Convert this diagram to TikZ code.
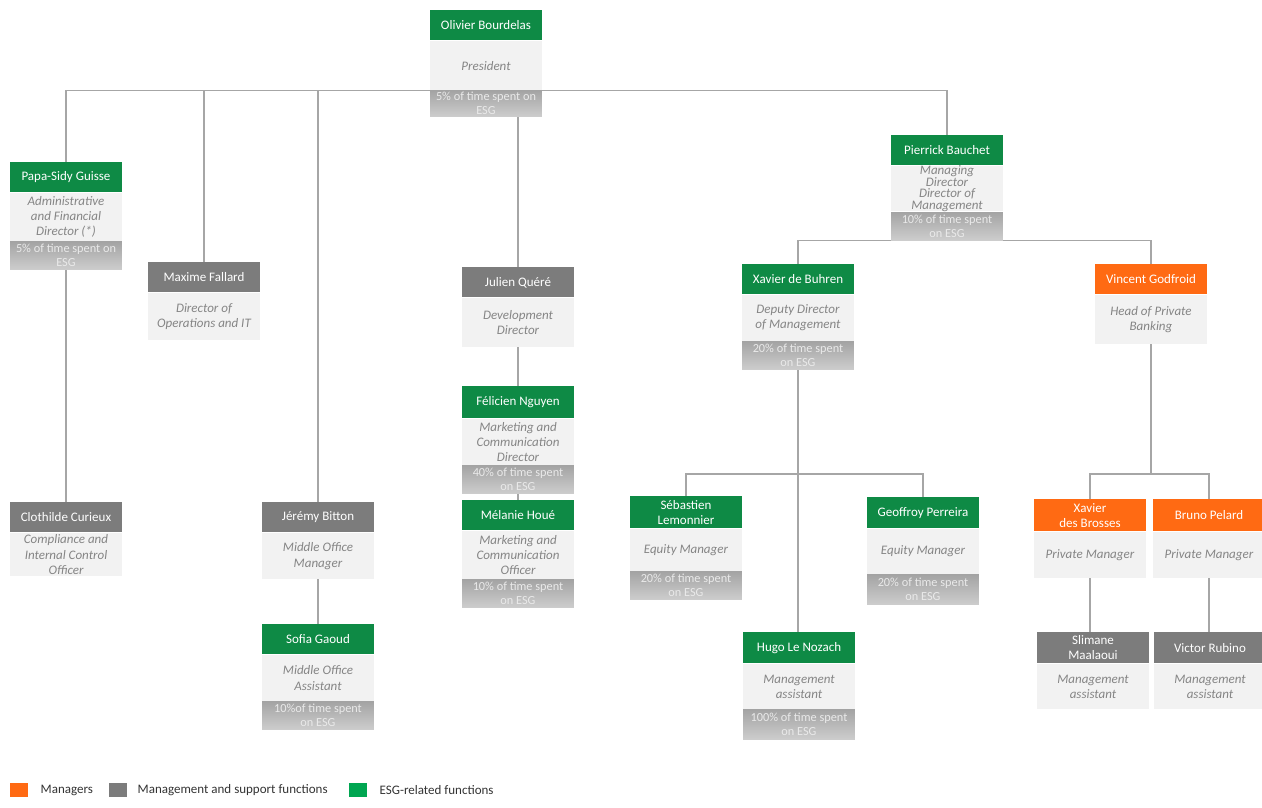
\documentclass[tikz,border=0pt]{standalone}
\usepackage{fontspec}
\setmainfont{Carlito}
\usetikzlibrary{positioning,backgrounds}
\definecolor{esggreen}{HTML}{0E8A45}
\definecolor{supgray}{HTML}{7C7C7C}
\definecolor{mgrorange}{HTML}{FF6A13}
\definecolor{leggreen}{HTML}{00A651}
\definecolor{rolefill}{HTML}{F2F2F2}
\definecolor{roletext}{HTML}{858585}
\definecolor{esgtop}{HTML}{A4A4A4}
\definecolor{esgbottom}{HTML}{CDCDCD}
\definecolor{esgtext}{HTML}{EAEAEA}
\definecolor{linegray}{HTML}{A6A6A6}
\begin{document}
\begin{tikzpicture}
[x=0.02cm,y=-0.02cm,
  headdecorate/.style={text=white,minimum width=2.24cm,minimum height=0.6cm,inner sep=0pt,align=center,anchor=north,font=\fontsize{7.4}{8.4}\selectfont},
  greendecorate/.style={headdecorate,fill=esggreen},
  graydecorate/.style={headdecorate,fill=supgray},
  orangedecorate/.style={headdecorate,fill=mgrorange},
  roledecorate/.style={fill=rolefill,text=roletext,minimum width=2.24cm,minimum height=0.94cm,inner sep=0pt,align=center,font=\fontsize{7.4}{8.6}\selectfont\itshape},
  esgdecorate/.style={top color=esgtop,bottom color=esgbottom,text=esgtext,minimum width=2.24cm,minimum height=0.56cm,inner sep=0pt,align=center,font=\fontsize{7}{8}\selectfont},
  linedecorate/.style={draw=linegray,line width=0.6pt},
  legenddecorate/.style={minimum width=0.36cm,minimum height=0.28cm,inner sep=0pt},
  legendtext/.style={right=0.22cm,inner sep=0pt,text=black!80,font=\fontsize{7.4}{8.4}\selectfont}]
\useasboundingbox (0,0) rectangle (1262,808);
% bar heights
\coordinate (eqbar) at (0,474);
% president
\node (oliHead) at (486,10) [greendecorate] {Olivier Bourdelas};
\node (oliBody) [roledecorate,below=0pt of oliHead,minimum height=0.98cm] {President};
\node (oliEsg) [esgdecorate,below=0pt of oliBody,minimum height=0.52cm] {5\% of time spent on\\ESG};
% left branch
\node (papaHead) at (66,162) [greendecorate] {Papa-Sidy Guisse};
\node (papaBody) [roledecorate,below=0pt of papaHead,minimum height=0.96cm] {Administrative\\and Financial\\Director (*)};
\node (papaEsg) [esgdecorate,below=0pt of papaBody] {5\% of time spent on\\ESG};
\node (cloHead) at (66,502) [graydecorate] {Clothilde Curieux};
\node (cloBody) [roledecorate,below=0pt of cloHead,minimum height=0.86cm] {Compliance and\\Internal Control\\Officer};
\node (maxHead) at (204,262) [graydecorate] {Maxime Fallard};
\node (maxBody) [roledecorate,below=0pt of maxHead] {Director of\\Operations and IT};
\node (jerHead) at (318,502) [graydecorate] {Jérémy Bitton};
\node (jerBody) [roledecorate,below=0pt of jerHead,minimum height=0.92cm] {Middle Office\\Manager};
\node (sofHead) at (318,624) [greendecorate] {Sofia Gaoud};
\node (sofBody) [roledecorate,below=0pt of sofHead,minimum height=0.92cm] {Middle Office\\Assistant};
\node (sofEsg) [esgdecorate,below=0pt of sofBody] {10\%of time spent\\on ESG};
% development
\node (julHead) at (518,267) [graydecorate] {Julien Quéré};
\node (julBody) [roledecorate,below=0pt of julHead,minimum height=0.98cm] {Development\\Director};
\node (felHead) at (518,386) [greendecorate,minimum height=0.64cm] {Félicien Nguyen};
\node (felBody) [roledecorate,below=0pt of felHead,minimum height=0.92cm] {Marketing and\\Communication\\Director};
\node (felEsg) [esgdecorate,below=0pt of felBody] {40\% of time spent\\on ESG};
\node (melHead) at (518,500) [greendecorate] {Mélanie Houé};
\node (melBody) [roledecorate,below=0pt of melHead,minimum height=0.96cm] {Marketing and\\Communication\\Officer};
\node (melEsg) [esgdecorate,below=0pt of melBody] {10\% of time spent\\on ESG};
% management
\node (pierHead) at (947,135) [greendecorate] {Pierrick Bauchet};
\node (pierBody) [roledecorate,below=0pt of pierHead,minimum height=0.9cm,font=\fontsize{7.4}{6.5}\selectfont\itshape] {Managing\\Director\\Director of\\Management};
\node (pierEsg) [esgdecorate,below=0pt of pierBody] {10\% of time spent\\on ESG};
\node (xdbHead) at (798,264) [greendecorate] {Xavier de Buhren};
\node (xdbBody) [roledecorate,below=0pt of xdbHead,minimum height=0.92cm] {Deputy Director\\of Management};
\node (xdbEsg) [esgdecorate,below=0pt of xdbBody] {20\% of time spent\\on ESG};
\node (sebHead) at (686,496) [greendecorate,minimum height=0.64cm] {Sébastien\\Lemonnier};
\node (sebBody) [roledecorate,below=0pt of sebHead,minimum height=0.84cm] {Equity Manager};
\node (sebEsg) [esgdecorate,below=0pt of sebBody] {20\% of time spent\\on ESG};
\node (geoHead) at (923,497) [greendecorate,minimum height=0.62cm] {Geoffroy Perreira};
\node (geoBody) [roledecorate,below=0pt of geoHead,minimum height=0.9cm] {Equity Manager};
\node (geoEsg) [esgdecorate,below=0pt of geoBody,minimum height=0.6cm] {20\% of time spent\\on ESG};
\node (hugHead) at (799,632) [greendecorate,minimum height=0.62cm] {Hugo Le Nozach};
\node (hugBody) [roledecorate,below=0pt of hugHead,minimum height=0.9cm] {Management\\assistant};
\node (hugEsg) [esgdecorate,below=0pt of hugBody,minimum height=0.6cm] {100\% of time spent\\on ESG};
% private banking
\node (vinHead) at (1151,264) [orangedecorate] {Vincent Godfroid};
\node (vinBody) [roledecorate,below=0pt of vinHead,minimum height=0.98cm] {Head of Private\\Banking};
\node (xbrHead) at (1090,499) [orangedecorate,minimum height=0.64cm] {Xavier\\des Brosses};
\node (xbrBody) [roledecorate,below=0pt of xbrHead,minimum height=0.92cm] {Private Manager};
\node (bruHead) at (1209,499) [orangedecorate,minimum height=0.64cm] {Bruno Pelard};
\node (bruBody) [roledecorate,below=0pt of bruHead,minimum height=0.92cm] {Private Manager};
\node (sliHead) at (1093,632) [graydecorate,minimum height=0.62cm] {Slimane\\Maalaoui};
\node (sliBody) [roledecorate,below=0pt of sliHead,minimum height=0.9cm] {Management\\assistant};
\node (vicHead) at (1210,632) [graydecorate,minimum height=0.62cm] {Victor Rubino};
\node (vicBody) [roledecorate,below=0pt of vicHead,minimum height=0.9cm] {Management\\assistant};
% legend
\node (legOrange) at (19,790) [legenddecorate,fill=mgrorange] {};
\node (legOrangeText) [legendtext,right=0.24cm of legOrange] {Managers};
\node (legGray) at (118,790) [legenddecorate,fill=supgray] {};
\node (legGrayText) [legendtext,right=0.2cm of legGray] {Management and support functions};
\node (legGreen) at (358,790) [legenddecorate,fill=leggreen] {};
\node (legGreenText) [legendtext,right=0.24cm of legGreen] {ESG-related functions};
% lines
\begin{pgfonlayer}{background}
\draw[linedecorate] (papaHead.north) |- (pierHead.north |- oliBody.south) -- (pierHead.north);
\draw[linedecorate] (maxHead.north) -- (maxHead.north |- oliBody.south);
\draw[linedecorate] (jerHead.north) -- (jerHead.north |- oliBody.south);
\draw[linedecorate] (oliEsg.south -| julHead.north) -- (julHead.north);
\draw[linedecorate] (papaEsg.south) -- (cloHead.north);
\draw[linedecorate] (julBody.south) -- (felHead.north);
\draw[linedecorate] (felEsg.south) -- (melHead.north);
\draw[linedecorate] (jerBody.south) -- (sofHead.north);
\draw[linedecorate] (xdbHead.north) |- (vinHead.north |- pierEsg.south) -- (vinHead.north);
\draw[linedecorate] (xdbEsg.south) -- (xdbEsg.south |- hugHead.north);
\draw[linedecorate] (sebHead.north) |- (geoHead.north |- eqbar) -- (geoHead.north);
\draw[linedecorate] (vinBody.south) -- (vinBody.south |- eqbar);
\draw[linedecorate] (xbrHead.north) |- (bruHead.north |- eqbar) -- (bruHead.north);
\draw[linedecorate] (xbrBody.south) -- (xbrBody.south |- sliHead.north);
\draw[linedecorate] (bruBody.south) -- (bruBody.south |- vicHead.north);
\end{pgfonlayer}
\end{tikzpicture}
\end{document}
